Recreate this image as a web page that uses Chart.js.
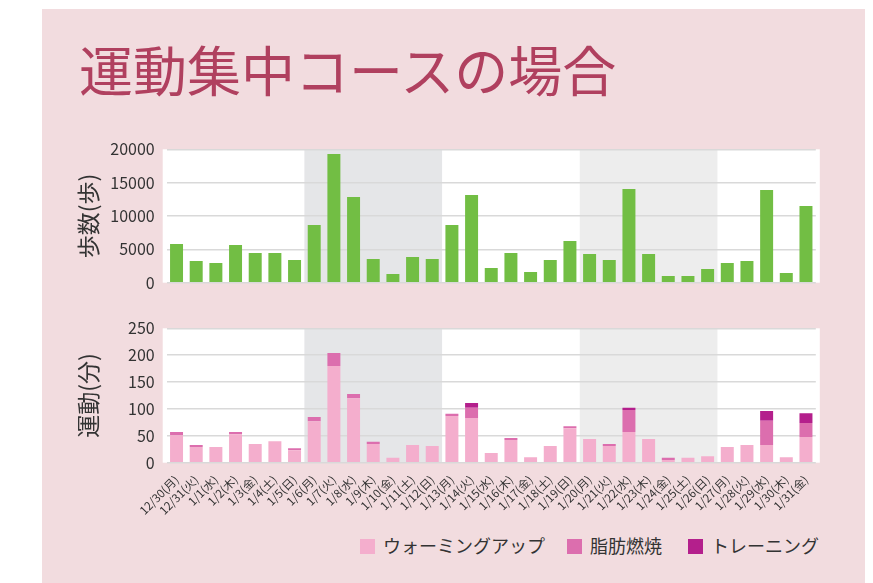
<!DOCTYPE html>
<html>
<head>
<meta charset="utf-8">
<script src="https://cdn.jsdelivr.net/npm/chart.js@4/dist/chart.umd.min.js"></script>
<style>
  body { margin: 0; background: #fff; font-family: "Noto Sans CJK JP", sans-serif; }
  #panel { position: absolute; left: 42px; top: 9px; width: 823px; height: 574px; background: #f2dcdf; }
  #title { position: absolute; left: 79px; top: 37px; font-size: 54px; line-height: 1.2; color: #b0405f; white-space: nowrap; }
  .box { position: absolute; left: 42px; width: 800px; }
  #legend { position: absolute; top: 532px; left: 360px; font-size: 18px; color: #333; white-space: nowrap; }
  #legend span.sw { display: inline-block; width: 15px; height: 15px; vertical-align: -1px; margin-right: 8px; }
</style>
</head>
<body>
<div id="panel"></div>
<div id="title">運動集中コースの場合</div>
<div class="box" style="top:130px;height:165px"><canvas id="steps"></canvas></div>
<div class="box" style="top:310px;height:210px"><canvas id="exercise"></canvas></div>
<div id="legend"></div>
<script>
// data
const days = ['12/30(月)', '12/31(火)', '1/1(水)', '1/2(木)', '1/3(金)', '1/4(土)', '1/5(日)',
  '1/6(月)', '1/7(火)', '1/8(水)', '1/9(木)', '1/10(金)', '1/11(土)', '1/12(日)',
  '1/13(月)', '1/14(火)', '1/15(水)', '1/16(木)', '1/17(金)', '1/18(土)', '1/19(日)',
  '1/20(月)', '1/21(火)', '1/22(水)', '1/23(木)', '1/24(金)', '1/25(土)', '1/26(日)',
  '1/27(月)', '1/28(火)', '1/29(水)', '1/30(木)', '1/31(金)'];
const steps = [5800, 3250, 2950, 5650, 4450, 4450, 3400, 8650, 19300, 12850, 3550, 1300, 3850, 3550,
  8650, 13150, 2200, 4450, 1600, 3400, 6250, 4300, 3400, 14050, 4300, 1000, 1000, 2050,
  2950, 3250, 13900, 1450, 11500];
const warmup = [51, 29, 29, 53, 35, 40, 23, 77, 180, 120, 35, 9, 33, 31,
  87, 83, 18, 42, 10, 31, 64, 44, 31, 57, 44, 5, 9, 12,
  29, 33, 33, 10, 48];
const fatBurn = [6, 4, 0, 4, 0, 0, 4, 8, 24, 8, 4, 0, 0, 0,
  4, 19, 0, 4, 0, 0, 4, 0, 4, 41, 0, 4, 0, 0,
  0, 0, 45, 0, 26];
const training = [0, 0, 0, 0, 0, 0, 0, 0, 0, 0, 0, 0, 0, 0,
  0, 9, 0, 0, 0, 0, 0, 0, 0, 4, 0, 0, 0, 0,
  0, 0, 18, 0, 18];
const stepTicks = [0, 20000, 5000];
const minuteTicks = [0, 250, 50];
const seriesNames = ['ウォーミングアップ', '脂肪燃焼', 'トレーニング'];
const seriesColors = ['#f4aecd', '#dc6eae', '#b41f8c'];
// shaded weeks (first and last index)
const bands = [[7, 13, '#e5e6e8'], [21, 27, '#ededed']];

const FONT = '"Noto Sans CJK JP", sans-serif';
const AREA_LEFT = 124.7, AREA_RIGHT = 773.8;

// white plot background + grey weeks
const plotBg = {
  id: 'plotBg',
  beforeDraw(chart) {
    const ctx = chart.ctx, a = chart.chartArea, x = chart.scales.x;
    ctx.save();
    ctx.fillStyle = '#fff';
    ctx.fillRect(a.left - 4, a.top, a.right - a.left + 8, a.bottom - a.top);
    bands.forEach(b => {
      const x0 = x.getPixelForValue(b[0] - 0.5);
      const x1 = x.getPixelForValue(b[1] + 0.5);
      ctx.fillStyle = b[2];
      ctx.fillRect(x0, a.top, x1 - x0, a.bottom - a.top);
    });
    ctx.restore();
  }
};

function yAxis(t, title) {
  return {
    stacked: true,
    min: t[0], max: t[1],
    afterFit(s) { s.width = AREA_LEFT; s.paddingTop = 0; s.paddingBottom = 0; },
    ticks: { stepSize: t[2], color: '#333', padding: 12, font: { family: FONT, size: 16 },
      callback: v => String(v) },
    grid: { color: '#d9d9d9', lineWidth: 1.5, drawTicks: false },
    border: { display: false },
    title: { display: true, text: title, color: '#333', font: { family: FONT, size: 23 }, padding: { top: 32, bottom: 0 } }
  };
}

new Chart(document.getElementById('steps'), {
  type: 'bar',
  data: {
    labels: days,
    datasets: [{ data: steps, backgroundColor: '#72be44', barPercentage: 0.66, categoryPercentage: 1 }]
  },
  options: {
    responsive: true, maintainAspectRatio: false, animation: false,
    layout: { padding: { top: 19.3, bottom: 12.3, right: 800 - AREA_RIGHT, left: 0 } },
    plugins: { legend: { display: false }, tooltip: { enabled: false } },
    scales: {
      x: { display: false },
      y: yAxis(stepTicks, '歩数(歩)')
    }
  },
  plugins: [plotBg]
});

new Chart(document.getElementById('exercise'), {
  type: 'bar',
  data: {
    labels: days,
    datasets: [warmup, fatBurn, training].map((d, i) => ({
      label: seriesNames[i], data: d, backgroundColor: seriesColors[i],
      barPercentage: 0.66, categoryPercentage: 1
    }))
  },
  options: {
    responsive: true, maintainAspectRatio: false, animation: false,
    layout: { padding: { top: 18.3, bottom: 0, right: 800 - AREA_RIGHT, left: 0 } },
    plugins: { legend: { display: false }, tooltip: { enabled: false } },
    scales: {
      x: {
        stacked: true,
        afterFit(s) { s.height = 210 - 152.7; },
        grid: { display: false },
        border: { display: false },
        ticks: { autoSkip: false, minRotation: 45, maxRotation: 45, color: '#333', padding: 2, font: { family: FONT, size: 11.5 } }
      },
      y: yAxis(minuteTicks, '運動(分)')
    }
  },
  plugins: [plotBg]
});

const gaps = [22, 26, 0];
document.getElementById('legend').innerHTML = seriesNames.map((n, i) =>
  '<span style="margin-right:' + gaps[i] + 'px"><span class="sw" style="background:' + seriesColors[i] + '"></span>' + n + '</span>').join('');
</script>
</body>
</html>
